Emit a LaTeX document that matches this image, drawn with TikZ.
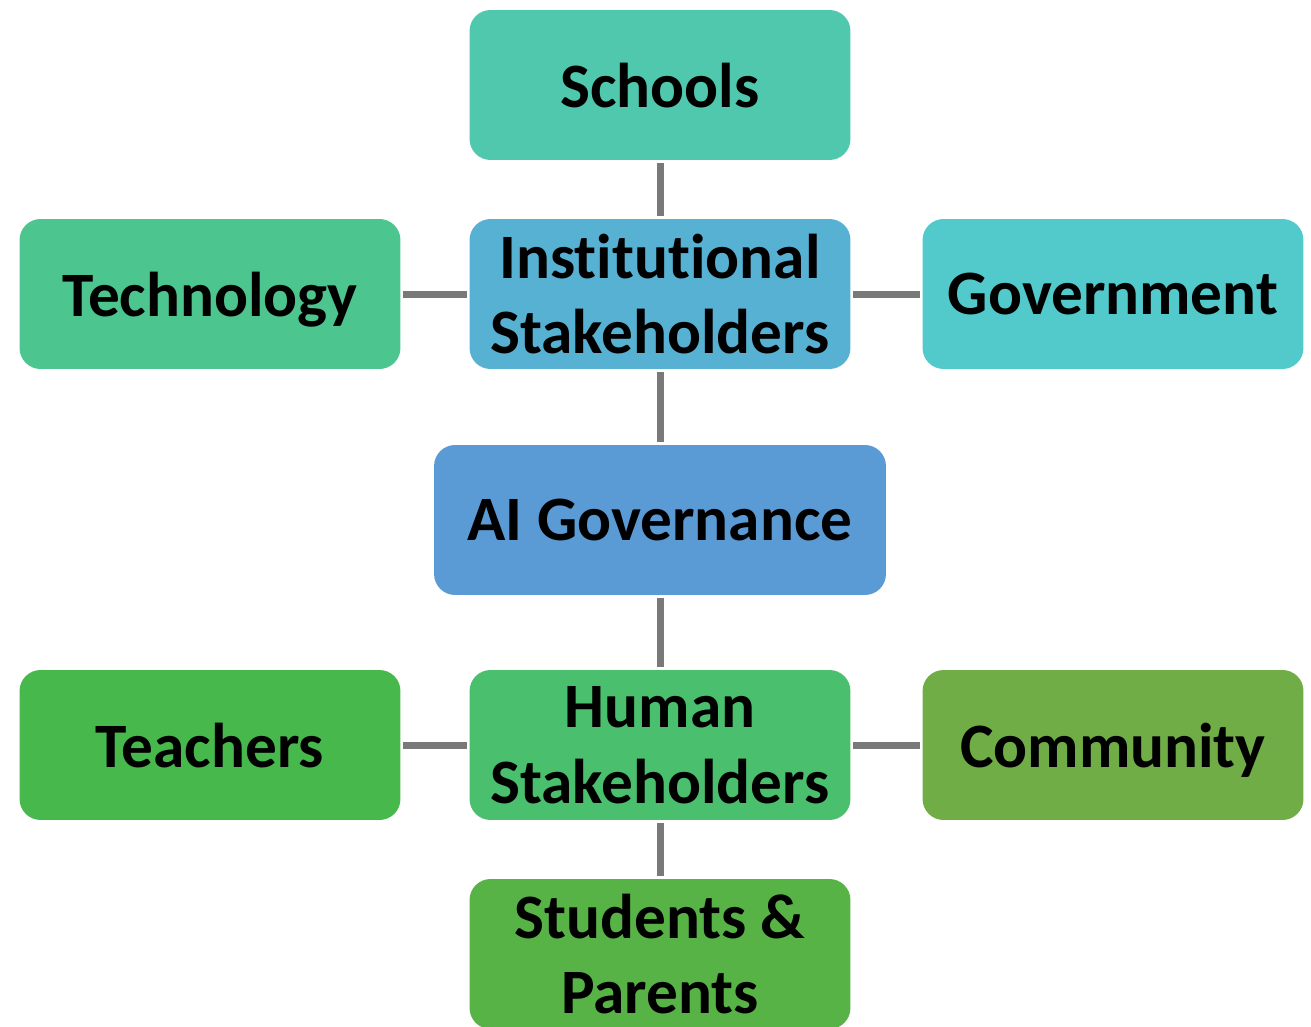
\documentclass[tikz,border=0pt]{standalone}
\usepackage{fontspec}
\setmainfont{Carlito}[Ligatures=NoCommon]
\definecolor{cSchools}{HTML}{50C8AD}
\definecolor{cTech}{HTML}{4CC58F}
\definecolor{cInst}{HTML}{57B1D3}
\definecolor{cGov}{HTML}{52CACB}
\definecolor{cAI}{HTML}{5B9BD5}
\definecolor{cTeach}{HTML}{47B84B}
\definecolor{cHuman}{HTML}{4ABF6D}
\definecolor{cComm}{HTML}{70AD47}
\definecolor{cStud}{HTML}{58B346}
\tikzset{
  box/.style={rounded corners=0.42cm, minimum width=7.62cm, minimum height=3cm,
    align=center, inner sep=0pt, font=\fontsize{36}{43}\selectfont\bfseries},
  oneline/.style={text depth=0pt},
  link/.style={draw=gray!95!black, line width=0.14cm, shorten <=1.5pt, shorten >=1.5pt}
}
\begin{document}
\begin{tikzpicture}[x=0.02cm,y=-0.02cm]
  \useasboundingbox (0,0) rectangle (1311,1027);

  \node [box, oneline, fill=cSchools] (schools) at (660,85) {Schools};
  \node [box, oneline, fill=cTech] (tech) at (210,294) {Technology};
  \node [box, fill=cInst] (inst) at (660,294) {Institutional\\Stakeholders};
  \node [box, oneline, fill=cGov] (gov) at (1113,294) {Government};

  \node [box, oneline, fill=cAI, minimum width=9.04cm] (ai) at (660,520) {AI Governance};

  \node [box, oneline, fill=cTeach] (teach) at (210,745) {Teachers};
  \node [box, fill=cHuman] (human) at (660,745) {Human\\Stakeholders};
  \node [box, oneline, fill=cComm] (comm) at (1113,745) {Community};
  \node [box, fill=cStud] (stud) at (660,954) {Students \&\\Parents};

  \draw [link] (schools) -- (inst);
  \draw [link] (tech) -- (inst);
  \draw [link] (inst) -- (gov);
  \draw [link] (inst) -- (ai);
  \draw [link] (ai) -- (human);
  \draw [link] (teach) -- (human);
  \draw [link] (human) -- (comm);
  \draw [link] (human) -- (stud);
\end{tikzpicture}
\end{document}
